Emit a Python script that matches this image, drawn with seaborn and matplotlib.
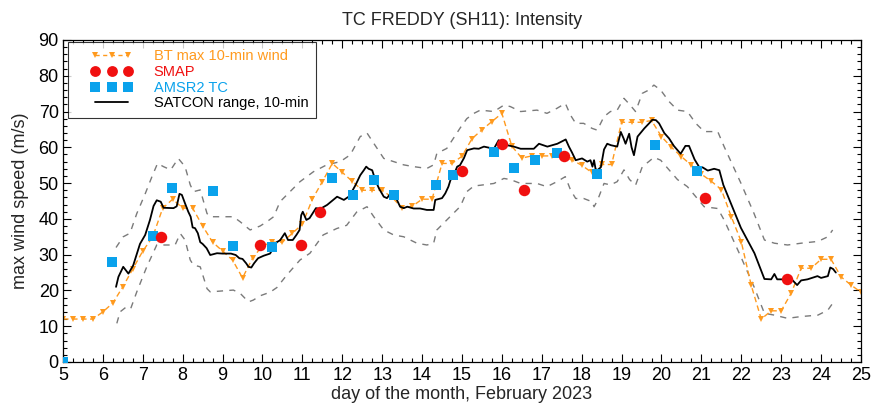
import matplotlib
matplotlib.use("Agg")
import matplotlib.pyplot as plt
from matplotlib.lines import Line2D
from matplotlib.legend_handler import HandlerLine2D
from matplotlib.ticker import MultipleLocator
import seaborn as sns

title = "TC FREDDY (SH11): Intensity"
x_label = "day of the month, February 2023"
y_label = "max wind speed (m/s)"
legend_labels = ["BT max 10-min wind", "SMAP", "AMSR2 TC", "SATCON range, 10-min"]

# Best track, 6-hourly
bt_day = [5.0, 5.25, 5.5, 5.75, 6.0, 6.25, 6.5, 6.75, 7.0, 7.25, 7.5, 7.75,
          8.0, 8.25, 8.5, 8.75, 9.0, 9.25, 9.5, 9.75, 10.0, 10.25, 10.5, 10.75,
          11.0, 11.25, 11.5, 11.75, 12.0, 12.25, 12.5, 12.75, 13.0, 13.25, 13.5, 13.75,
          14.0, 14.25, 14.5, 14.75, 15.0, 15.25, 15.5, 15.75, 16.0, 16.25, 16.5, 16.75,
          17.0, 17.25, 17.5, 17.75, 18.0, 18.25, 18.5, 18.75, 19.0, 19.25, 19.5, 19.75,
          20.0, 20.25, 20.5, 20.75, 21.0, 21.25, 21.5, 21.75, 22.0, 22.25, 22.5, 22.75,
          23.0, 23.25, 23.5, 23.75, 24.0, 24.25, 24.5, 24.75, 25.0]
bt_wind = [12, 12, 12, 12, 14, 16.5, 21, 26, 31, 35, 43, 45.5,
           43, 43, 38, 33.5, 31, 28.5, 23.5, 29, 32.5, 33.5, 33.5, 36,
           38.5, 45.5, 50.4, 55.5, 53, 50.5, 48, 48, 48, 46, 43, 43.5,
           45.5, 45.5, 55.5, 55.5, 57.5, 62.4, 64.9, 67.2, 69.5, 60.3, 57, 57.6,
           57.6, 57.6, 57.6, 56.5, 55, 53, 55.2, 55.2, 67, 67, 67, 67.5,
           63, 60, 57.4, 55, 52.5, 50.5, 48.2, 40.6, 33.6, 21.4, 12, 14.3,
           14.3, 19.2, 26.2, 26.2, 28.7, 28.7, 23.8, 21.5, 19.5]

# SMAP
smap_day = [7.46, 9.94, 10.97, 11.44, 15.01, 16.01, 16.55, 17.56, 21.08, 23.14]
smap_wind = [35, 32.6, 32.8, 41.9, 53.4, 60.9, 48.1, 57.6, 45.8, 23.1]

# AMSR2 TC
amsr_day = [5.0, 6.22, 7.25, 7.73, 8.75, 9.27, 10.25, 11.74, 12.27, 12.79, 13.29,
            14.34, 14.77, 15.8, 16.3, 16.84, 17.37, 18.39, 19.84, 20.88]
amsr_wind = [0, 27.9, 35.2, 48.5, 47.9, 32.4, 32, 51.5, 46.7, 50.9, 46.8,
             49.5, 52.4, 58.8, 54.1, 56.5, 58.5, 52.6, 60.6, 53.5]

# SATCON
sat_day = [6.33, 6.39, 6.51, 6.64, 6.76, 6.93, 7.06, 7.18, 7.27, 7.35, 7.45, 7.52,
           7.77, 7.85, 7.92, 7.98, 8.06, 8.14, 8.2, 8.25, 8.31, 8.38, 8.44, 8.5,
           8.6, 8.69, 8.86, 9.0, 9.21, 9.33, 9.42, 9.5, 9.59, 9.65, 9.72, 9.79,
           9.89, 10.03, 10.19, 10.28, 10.36, 10.44, 10.56, 10.64, 10.76, 10.85, 10.93, 10.97,
           11.01, 11.1, 11.18, 11.26, 11.34, 11.45, 11.62, 11.87, 12.04, 12.16, 12.24, 12.33,
           12.45, 12.54, 12.6, 12.66, 12.75, 12.83, 12.92, 13.04, 13.12, 13.21, 13.29, 13.37,
           13.45, 13.54, 13.63, 13.79, 13.95, 14.12, 14.29, 14.33, 14.5, 14.58, 14.66, 14.71,
           14.79, 14.88, 14.95, 15.05, 15.13, 15.3, 15.42, 15.55, 15.8, 15.92, 16.0, 16.13,
           16.3, 16.47, 16.64, 16.8, 16.93, 17.14, 17.39, 17.6, 17.68, 17.76, 17.85, 18.01,
           18.14, 18.22, 18.27, 18.31, 18.35, 18.39, 18.48, 18.56, 18.64, 18.73, 18.89, 18.98,
           19.05, 19.1, 19.19, 19.25, 19.31, 19.4, 19.57, 19.69, 19.77, 19.86, 19.94, 20.07,
           20.19, 20.31, 20.48, 20.6, 20.69, 20.83, 20.95, 21.03, 21.16, 21.32, 21.45, 21.55,
           21.74, 21.99, 22.33, 22.58, 22.75, 22.83, 22.9, 23.07, 23.28, 23.4, 23.5, 23.66,
           23.91, 24.0, 24.17, 24.23, 24.3, 24.37]
sat_wind = [21, 23.8, 26.6, 24.7, 27, 33, 35.5, 39.7, 43.6, 45.2, 44.8, 43.1,
            43, 43.5, 47, 46.7, 44.3, 42, 40.6, 37.6, 37.4, 36, 33.5, 33,
            31.8, 29.9, 30.4, 30.3, 30.3, 29.9, 29, 28.8, 27.6, 26.6, 26.4, 27.6,
            29, 29.7, 30.3, 32, 33.5, 34, 36, 34.1, 34.1, 35.5, 36.9, 41,
            42, 39.7, 40.2, 41.6, 43, 42.8, 43.9, 46.2, 45.3, 46.2, 47.6, 49.4,
            52.2, 53.6, 54.6, 54, 53.6, 50.8, 48.5, 46.2, 45.8, 47.1, 46.2, 45.3,
            43.4, 43, 43.4, 42.9, 42.9, 42.5, 42.5, 45.3, 45.8, 47.1, 49, 50.8,
            52.2, 54.6, 55, 57, 59.2, 59.7, 59.6, 60.2, 59.6, 62, 61, 60.6,
            60.2, 59.6, 59.6, 59.6, 61, 60.2, 61, 62.2, 60.2, 58.5, 56.4, 56.9,
            56, 56.4, 54.6, 56.4, 53.8, 53.6, 54.4, 59.4, 61, 60.6, 60.2, 64.3,
            62.5, 61, 63.8, 60, 57.8, 63, 65.3, 66.7, 67.7, 67.6, 66.7, 64,
            62.5, 60.4, 58.2, 60.4, 60.4, 56.6, 54.4, 54.4, 53.5, 54, 53.6, 49.5,
            44.3, 37.5, 30.4, 23.2, 23.1, 24.6, 23.1, 23.1, 22.9, 21.5, 22.8, 23.1,
            24, 23.5, 24, 26.4, 26, 25]

# SATCON range, upper bound
up_day = [6.33, 6.51, 6.68, 6.85, 7.06, 7.23, 7.37, 7.52, 7.7, 7.89, 8.06, 8.19,
          8.27, 8.44, 8.61, 8.69, 9.27, 9.44, 9.69, 9.94, 10.11, 10.28, 10.44, 10.94,
          11.28, 11.61, 11.95, 12.2, 12.45, 12.62, 12.79, 13.04, 13.29, 13.54, 13.79, 14.12,
          14.29, 14.37, 14.62, 14.96, 15.12, 15.3, 15.46, 15.8, 16.05, 16.21, 16.47, 16.88,
          17.13, 17.38, 17.59, 17.72, 17.85, 18.05, 18.26, 18.39, 18.56, 18.72, 18.89, 19.06,
          19.2, 19.35, 19.52, 19.68, 19.81, 19.98, 20.19, 20.4, 20.65, 20.86, 21.07, 21.41,
          21.57, 21.99, 22.32, 22.58, 22.83, 23.16, 23.5, 23.92, 24.17, 24.29]
up_wind = [32, 35, 36, 41.5, 47, 51.8, 55.5, 54.6, 53.7, 56.9, 54.6, 49.5,
           47.6, 48.1, 41.5, 40.6, 40.6, 39.2, 36.9, 38, 39.2, 40.6, 44.8, 50.4,
           53.2, 55.1, 56, 57.9, 63, 64, 61.1, 56.9, 56, 55.1, 54.6, 54.1,
           55.1, 58.3, 59.7, 65.5, 68, 69.5, 70.4, 70, 71.8, 71.4, 70, 70.4,
           69.5, 70.9, 72.3, 69, 66.7, 66.7, 65.3, 64.8, 68.6, 70, 70.4, 73.7,
           72, 70, 75.1, 76, 77.4, 76, 72.8, 70.4, 70, 66.7, 64.4, 64.4,
           60.2, 50, 41.5, 34.1, 33.2, 32.7, 33.2, 33.7, 35, 36.9]

# SATCON range, lower bound
lo_day = [6.35, 6.43, 6.6, 6.7, 6.85, 7.1, 7.35, 7.52, 7.81, 7.94, 8.06, 8.19,
          8.27, 8.44, 8.61, 8.69, 9.27, 9.44, 9.65, 9.77, 9.94, 10.19, 10.36, 10.61,
          10.94, 11.19, 11.52, 11.86, 12.11, 12.36, 12.62, 12.79, 13.04, 13.29, 13.54, 13.87,
          14.12, 14.29, 14.37, 14.62, 14.96, 15.12, 15.3, 15.46, 15.8, 16.05, 16.21, 16.47,
          16.88, 17.13, 17.38, 17.59, 17.72, 17.85, 18.05, 18.26, 18.31, 18.39, 18.56, 18.72,
          18.89, 19.06, 19.2, 19.35, 19.52, 19.68, 19.81, 19.98, 20.19, 20.4, 20.65, 20.86,
          21.07, 21.41, 21.57, 21.99, 22.32, 22.58, 22.83, 23.16, 23.5, 23.92, 24.17, 24.29]
lo_wind = [10.8, 14, 15.5, 15, 19.6, 26.6, 32.7, 32.7, 32.7, 35.9, 34.1, 28.5,
           27.1, 26.6, 20.5, 19.6, 20.1, 19.2, 16.8, 17.3, 18.5, 19.5, 20.8, 24.3,
           28.5, 30.4, 35.5, 37.3, 38.2, 41.9, 43.4, 40.6, 36.9, 35.5, 35, 33.2,
           32.7, 33.2, 36.9, 39.7, 43.5, 47.6, 49.2, 49.4, 49.9, 51.3, 51, 49.9,
           49.9, 49, 50.4, 51.8, 48.1, 45.7, 45.7, 44.8, 43.4, 45, 49.9, 49.5,
           50.4, 53.7, 51, 49.4, 54.6, 56, 57.2, 56.4, 53.7, 51, 49, 46.2,
           43.4, 42.9, 39.7, 29.4, 21, 13.6, 13.1, 12.2, 12.7, 13.1, 14.5, 16.4]

ORANGE = "#FF9A1E"
RED = "#F01010"
BLUE = "#0AA2EC"
GRAY = "#7A7A7A"
FS = 13


class ShiftedHandler(HandlerLine2D):
    """Legend handler that leaves a blank gap before the sample markers."""

    def __init__(self, gap=1.1, **kw):
        super().__init__(**kw)
        self.gap = gap

    def get_xdata(self, legend, xdescent, ydescent, width, height, fontsize):
        xd, xm = super().get_xdata(legend, xdescent, ydescent,
                                   width - self.gap * fontsize, height, fontsize)
        return xd + self.gap * fontsize, xm + self.gap * fontsize


sns.set_style("ticks", {"xtick.direction": "in", "ytick.direction": "in"})
plt.rcParams["font.family"] = ["Liberation Sans", "DejaVu Sans"]
plt.rcParams["font.size"] = FS

fig = plt.figure(figsize=(8.71, 4.04), dpi=100)
ax = fig.add_axes([0.0723, 0.104, 0.9162, 0.797])

kw = dict(estimator=None, sort=False, ax=ax, legend=False)
sns.lineplot(x=up_day, y=up_wind, color=GRAY, lw=1.0, linestyle=(0, (4.5, 4.5)), **kw)
sns.lineplot(x=lo_day, y=lo_wind, color=GRAY, lw=1.0, linestyle=(0, (4.5, 4.5)), **kw)
sns.lineplot(x=bt_day, y=bt_wind, color=ORANGE, lw=1.0, linestyle=(0, (4, 2.5)),
             marker="v", markersize=5, markeredgewidth=0, markerfacecolor=ORANGE, **kw)
sns.lineplot(x=sat_day, y=sat_wind, color="black", lw=1.3, **kw)
sns.scatterplot(x=amsr_day, y=amsr_wind, color=BLUE, marker="s", s=60, linewidth=0,
                ax=ax, legend=False, zorder=4)
sns.scatterplot(x=smap_day, y=smap_wind, color=RED, marker="o", s=68, linewidth=0,
                ax=ax, legend=False, zorder=5)

ax.set_xlim(5, 25)
ax.set_ylim(0, 90)
ax.xaxis.set_major_locator(MultipleLocator(1))
ax.xaxis.set_minor_locator(MultipleLocator(0.25))
ax.yaxis.set_major_locator(MultipleLocator(10))
ax.yaxis.set_minor_locator(MultipleLocator(2))
ax.tick_params(which="both", direction="in", top=True, right=True, colors="black",
               labelsize=FS, width=0.8)
ax.tick_params(which="major", length=6)
ax.tick_params(which="minor", length=3)
ax.tick_params(axis="x", which="major", pad=3.5)
ax.tick_params(axis="y", which="major", pad=3)
for sp in ax.spines.values():
    sp.set_visible(True)
    sp.set_linewidth(0.9)
    sp.set_color("black")

ax.set_title(title, fontsize=FS, pad=11)
ax.set_xlabel(x_label, fontsize=FS, labelpad=1.5)
ax.set_ylabel(y_label, fontsize=FS, labelpad=7)

handles = [
    Line2D([], [], color=ORANGE, lw=1.0, linestyle=(0, (3, 2.5)), marker="v",
           markersize=5, markeredgewidth=0),
    Line2D([], [], color=RED, lw=0, marker="o", markersize=7.8, markeredgewidth=0),
    Line2D([], [], color=BLUE, lw=0, marker="s", markersize=7, markeredgewidth=0),
    Line2D([], [], color="black", lw=1.3),
]
hmap = {h: ShiftedHandler(gap=1.1) for h in handles}
leg = ax.legend(handles, legend_labels, loc="upper left", bbox_to_anchor=(0.006, 0.994),
                numpoints=3, handlelength=3.9, handletextpad=1.5, labelspacing=0.12,
                borderpad=0.5, fontsize=10.5, frameon=True, fancybox=False,
                borderaxespad=0, handler_map=hmap)
leg.get_frame().set_edgecolor("black")
leg.get_frame().set_linewidth(0.8)
for txt, c in zip(leg.get_texts(), [ORANGE, RED, BLUE, "black"]):
    txt.set_color(c)

fig.savefig("out.png", dpi=100)
